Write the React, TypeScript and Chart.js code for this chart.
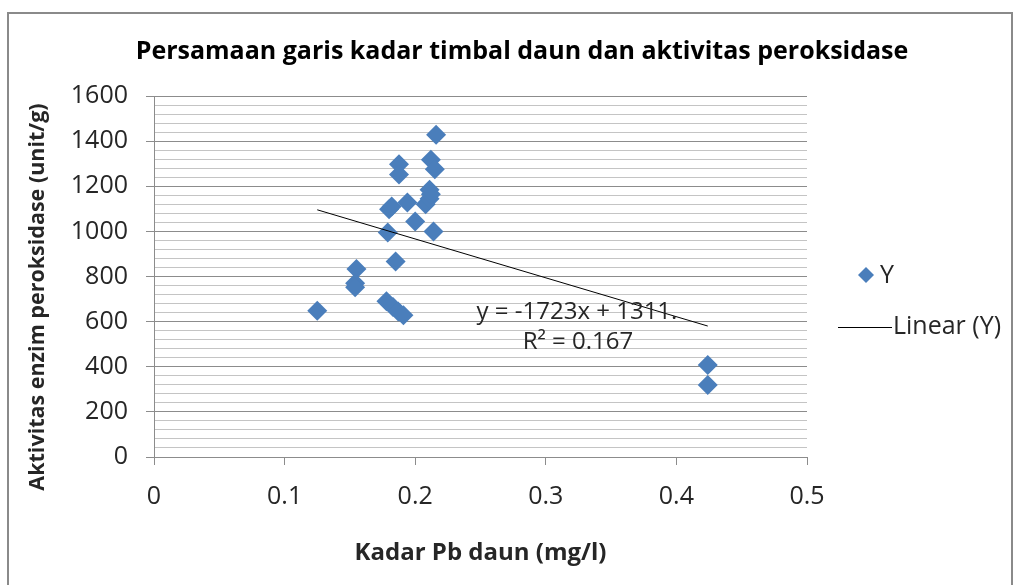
import React, { useEffect, useRef } from 'react';
import { Chart, registerables } from 'chart.js';

Chart.register(...registerables);

// Kadar Pb daun (mg/l)
const xValues = [
  0.125, 0.155, 0.154, 0.154, 0.178, 0.183, 0.187, 0.191, 0.185, 0.179,
  0.180, 0.182, 0.194, 0.200, 0.214, 0.208, 0.211, 0.212, 0.211, 0.1876,
  0.1876, 0.212, 0.215, 0.216, 0.424, 0.424,
];
// Aktivitas enzim peroksidase (unit/g)
const yValues = [
  648, 833, 770, 752, 690, 665, 645, 628, 866, 995,
  1098, 1110, 1128, 1044, 1000, 1120, 1145, 1165, 1185, 1298,
  1252, 1318, 1275, 1428, 408, 319,
];
const trendSlope = -1723;
const trendIntercept = 1311;
const equationText = 'y = -1723x + 1311.';
const r2Text = 'R\u00b2 = 0.167';
const titleText = 'Persamaan garis kadar timbal daun dan aktivitas peroksidase';
const xTitle = 'Kadar Pb daun (mg/l)';
const yTitle = 'Aktivitas enzim peroksidase (unit/g)';
const seriesName = 'Y';
const trendName = 'Linear (Y)';

const FONT = '"Open Sans", "DejaVu Sans", sans-serif';
const BLUE = '#4a7ebb';
const TEXT = '#262626';
const AXIS = '#8c8c8c';
const MINOR = '#c4c4c4';

const decor = {
  id: 'decor',
  beforeDraw(chart: any) {
    const ctx = chart.ctx;
    ctx.save();
    ctx.fillStyle = '#ffffff';
    ctx.fillRect(0, 0, chart.width, chart.height);
    ctx.strokeStyle = '#8a8a8a';
    ctx.lineWidth = 2;
    ctx.strokeRect(8, 13, 1004, 600);
    ctx.restore();
  },
  afterDraw(chart: any) {
    const ctx = chart.ctx;
    const area = chart.chartArea;
    ctx.save();
    // title
    ctx.fillStyle = '#000';
    ctx.textAlign = 'center';
    ctx.textBaseline = 'middle';
    ctx.font = `bold 25px ${FONT}`;
    ctx.fillText(titleText, 522, 52);
    // x axis title
    ctx.fillStyle = TEXT;
    ctx.font = `bold 24px ${FONT}`;
    ctx.fillText(xTitle, (area.left + area.right) / 2, 553);
    // y axis title
    ctx.save();
    ctx.translate(38, 297);
    ctx.rotate(-Math.PI / 2);
    ctx.font = `bold 21.5px ${FONT}`;
    ctx.fillText(yTitle, 0, 0);
    ctx.restore();
    // equation
    ctx.font = `24px ${FONT}`;
    ctx.fillText(equationText, 577, 312);
    ctx.fillText(r2Text, 578, 342);
    // legend
    ctx.fillStyle = BLUE;
    ctx.beginPath();
    ctx.moveTo(866, 267);
    ctx.lineTo(874, 275);
    ctx.lineTo(866, 283);
    ctx.lineTo(858, 275);
    ctx.closePath();
    ctx.fill();
    ctx.fillStyle = TEXT;
    ctx.textAlign = 'left';
    ctx.font = `25px ${FONT}`;
    ctx.fillText(seriesName, 880, 276);
    ctx.strokeStyle = '#000';
    ctx.lineWidth = 1;
    ctx.beginPath();
    ctx.moveTo(838, 327.5);
    ctx.lineTo(892, 327.5);
    ctx.stroke();
    ctx.fillText(trendName, 893, 327);
    ctx.restore();
  },
};

export default function App() {
  const ref = useRef<HTMLCanvasElement | null>(null);
  useEffect(() => {
    if (!ref.current) return;
    const xMin = Math.min(...xValues);
    const xMax = Math.max(...xValues);
    const chart = new Chart(ref.current, {
      type: 'scatter',
      data: {
        datasets: [
          {
            type: 'line',
            label: trendName,
            data: [
              { x: xMin, y: trendSlope * xMin + trendIntercept },
              { x: xMax, y: trendSlope * xMax + trendIntercept },
            ],
            borderColor: '#000',
            borderWidth: 1,
            pointRadius: 0,
            fill: false,
            order: 0,
          } as any,
          {
            type: 'scatter',
            label: seriesName,
            data: xValues.map((x, i) => ({ x, y: yValues[i] })),
            pointStyle: 'rectRot',
            pointRadius: 10,
            backgroundColor: BLUE,
            borderColor: BLUE,
            borderWidth: 0,
            order: 1,
          } as any,
        ],
      },
      options: {
        responsive: false,
        animation: false,
        devicePixelRatio: 1,
        layout: { padding: { left: 0, top: 96, right: 1020 - 807, bottom: 0 } },
        plugins: { legend: { display: false }, tooltip: { enabled: false }, title: { display: false } },
        scales: {
          x: {
            type: 'linear',
            min: 0,
            max: 0.5,
            afterFit: (s: any) => { s.height = 128; },
            ticks: {
              stepSize: 0.1,
              padding: 17,
              color: TEXT,
              font: { family: FONT, size: 25 },
              callback: (v: any) => String(Math.round(Number(v) * 10) / 10),
            },
            grid: { drawOnChartArea: false, drawTicks: true, tickLength: 8, tickColor: AXIS },
            border: { color: AXIS, width: 1 },
          },
          y: {
            type: 'linear',
            min: 0,
            max: 1600,
            afterFit: (s: any) => { s.width = 154; },
            ticks: {
              stepSize: 40,
              autoSkip: false,
              padding: 18,
              color: TEXT,
              font: { family: FONT, size: 25 },
              callback: (v: any) => (Number(v) % 200 === 0 ? String(v) : ''),
            },
            grid: {
              color: (c: any) => (c.tick && c.tick.value % 200 === 0 ? AXIS : MINOR),
              tickColor: (c: any) => (c.tick && c.tick.value % 200 === 0 ? AXIS : 'rgba(0,0,0,0)'),
              tickLength: 8,
              lineWidth: 1,
            },
            border: { color: AXIS, width: 1 },
          },
        },
      } as any,
      plugins: [decor],
    });
    return () => chart.destroy();
  }, []);
  return (
    <div style={{ position: 'fixed', left: 0, top: 0, width: 1020, height: 585, background: '#fff' }}>
      <canvas ref={ref} width={1020} height={585} style={{ display: 'block' }} />
    </div>
  );
}
